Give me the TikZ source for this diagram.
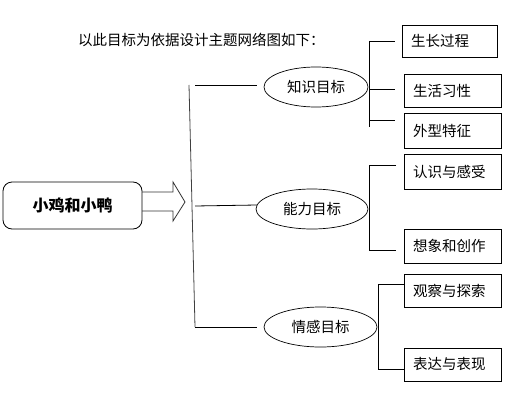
\documentclass[tikz,border=0pt]{standalone}
\usepackage{fontspec}
\usetikzlibrary{shapes.geometric}
\newfontfamily\cjk{Noto Sans CJK SC}
\begin{document}
\begin{tikzpicture}[x=1pt,y=-1pt,
  lbl/.style={font=\cjk\fontsize{14.5}{16}\selectfont, inner sep=0pt},
  leaf/.style={lbl, draw, line width=0.8pt, text width=79pt, align=left, inner xsep=9pt, minimum height=33pt},
  goal/.style={lbl, draw, ellipse, line width=0.7pt, minimum height=40pt},
  ln/.style={line width=0.8pt}]
\useasboundingbox (0,0) rectangle (526,409);

\node[lbl, anchor=west] (title) at (78,40) {以此目标为依据设计主题网络图如下：};

\node[lbl, draw, rounded corners=9pt, line width=0.8pt, minimum width=139pt, minimum height=47pt,
      font=\cjk\bfseries\fontsize{16}{18}\selectfont] (main) at (72.5,205.5) {小鸡和小鸭};

\coordinate (a1) at (142,192);
\coordinate (a2) at (142,211);
\draw[ln, draw=black!80] (a1) -- (173,192) -- (173,182) -- (185,202) -- (173,221) -- (173,211) -- (a2);

% goals
\node[goal, minimum width=104pt] (k) at (316,87) {知识目标};
\node[goal, minimum width=112pt] (n) at (312,209) {能力目标};
\node[goal, minimum width=113pt] (q) at (320.5,327) {情感目标};

% trunk
\coordinate (t1) at (189,85);
\coordinate (t3) at (195,327);
\coordinate (h1) at (195,85);
\coordinate (h2) at (195,206);
\coordinate (e1) at (257,85);
\coordinate (e2) at (257,205);
\coordinate (e3) at (257,327);
\draw[ln, draw=black!75] (t1) -- (t3);
\draw[ln] (h1) -- (e1);
\draw[ln] (h2) -- (e2);
\draw[ln] (t3) -- (e3);

% leaves
\node[leaf, text width=77pt, minimum height=32pt] (l1) at (449.5,41) {生长过程};
\node[leaf] (l2) at (452.5,90.5) {生活习性};
\node[leaf, minimum height=35pt] (l3) at (452.5,130.5) {外型特征};
\node[leaf, minimum height=35pt] (l4) at (452.5,171.5) {认识与感受};
\node[leaf, minimum height=34pt] (l5) at (452.5,246) {想象和创作};
\node[leaf] (l6) at (452.5,290.5) {观察与探索};
\node[leaf] (l7) at (452.5,364.5) {表达与表现};

% bracket 1
\coordinate (b1t) at (369,41);
\coordinate (b1m) at (369,89);
\coordinate (b1b) at (369,127);
\coordinate (b1l) at (369,120);
\draw[ln] (b1t) -- (b1b);
\draw[ln] (b1t) -- (395,41);
\draw[ln] (b1m) -- (395,89);
\draw[ln] (b1l) -- (395,120);

% bracket 2
\coordinate (b2t) at (369,165);
\coordinate (b2b) at (369,250);
\draw[ln] (396,165) -- (b2t) -- (b2b) -- (396,250);

% bracket 3
\coordinate (b3t) at (378,284);
\coordinate (b3b) at (378,369);
\draw[ln] (l6.west |- b3t) -- (b3t) -- (b3b) -- (l7.west |- b3b);
\end{tikzpicture}
\end{document}
